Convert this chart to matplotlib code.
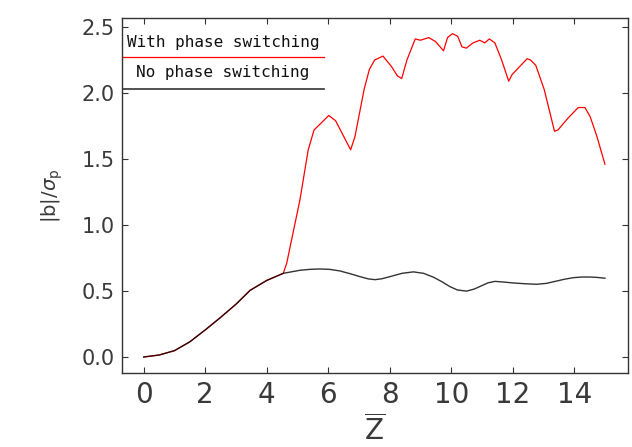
import matplotlib
matplotlib.use("Agg")
import matplotlib.pyplot as plt
from matplotlib.lines import Line2D

# no phase switching (black)
z_off = [0.0, 0.5, 1.0, 1.5, 2.0, 2.5, 3.0, 3.46, 4.0, 4.54, 5.08, 5.4, 5.73, 6.05,
         6.38, 6.7, 7.03, 7.3, 7.52, 7.75, 8.01, 8.4, 8.77, 9.1, 9.42, 9.7, 9.96,
         10.2, 10.5, 10.75, 10.94, 11.2, 11.42, 11.7, 12.02, 12.4, 12.78, 13.1,
         13.38, 13.7, 13.97, 14.25, 14.51, 14.75, 15.0]
b_off = [0.0, 0.015, 0.048, 0.115, 0.205, 0.3, 0.4, 0.505, 0.58, 0.634, 0.657, 0.664,
         0.667, 0.664, 0.652, 0.632, 0.609, 0.592, 0.586, 0.593, 0.609, 0.634, 0.645,
         0.634, 0.605, 0.57, 0.533, 0.508, 0.499, 0.515, 0.535, 0.562, 0.573, 0.568,
         0.561, 0.555, 0.551, 0.558, 0.573, 0.59, 0.601, 0.606, 0.606, 0.603, 0.597]

# with phase switching (red)
z_on = [0.0, 0.5, 1.0, 1.5, 2.0, 2.5, 3.0, 3.46, 4.0, 4.54, 4.65, 5.08, 5.35, 5.54,
        6.02, 6.24, 6.73, 6.87, 7.17, 7.34, 7.51, 7.78, 8.06, 8.25, 8.39, 8.56, 8.83,
        9.0, 9.27, 9.49, 9.75, 9.88, 10.04, 10.21, 10.35, 10.49, 10.71, 10.93, 11.09,
        11.24, 11.42, 11.64, 11.87, 11.98, 12.47, 12.58, 12.75, 13.02, 13.19, 13.36,
        13.47, 13.8, 14.13, 14.35, 14.52, 14.74, 15.0]
b_on = [0.0, 0.015, 0.048, 0.115, 0.205, 0.3, 0.4, 0.505, 0.58, 0.634, 0.71, 1.19,
        1.57, 1.72, 1.83, 1.79, 1.57, 1.67, 2.03, 2.18, 2.25, 2.28, 2.2, 2.13, 2.11,
        2.25, 2.41, 2.4, 2.42, 2.39, 2.32, 2.42, 2.45, 2.43, 2.35, 2.34, 2.38, 2.4,
        2.38, 2.41, 2.38, 2.25, 2.09, 2.14, 2.26, 2.25, 2.21, 2.03, 1.87, 1.71, 1.72,
        1.81, 1.89, 1.89, 1.82, 1.67, 1.46]

labels = ["With phase switching", "No phase switching"]
xticks = [0, 2, 4, 6, 8, 10, 12, 14]
yticks = [0.0, 0.5, 1.0, 1.5, 2.0, 2.5]

plt.rcParams["mathtext.fontset"] = "dejavusans"
fig = plt.figure(figsize=(6.32, 4.47), dpi=100)
ax = fig.add_axes([0.1926, 0.1662, 0.8011, 0.7928])

ax.plot(z_on, b_on, color="#ff0000", lw=0.9)
ax.plot(z_off, b_off, color="#000000", lw=1.0, alpha=0.8)

ax.set_xlim(-0.715, 15.75)
ax.set_ylim(-0.119, 2.566)
ax.set_xticks(xticks)
ax.set_xticklabels([str(t) for t in xticks])
ax.set_yticks(yticks)
ax.set_yticklabels(["%.1f" % t for t in yticks])

ax.tick_params(axis="both", direction="in", top=True, right=True, length=4.5,
               width=0.8, color="#333333", labelcolor="#3a3a3a")
ax.tick_params(axis="x", labelsize=20, pad=6)
ax.tick_params(axis="y", labelsize=15, pad=5)
for s in ax.spines.values():
    s.set_color("#333333")
    s.set_linewidth(1.0)

# legend drawn the IDL way: text above a line
ax.text(0.20, 0.933, labels[0], transform=ax.transAxes, ha="center", va="center",
        family="DejaVu Sans Mono", fontsize=11.5, color="#111111")
ax.add_line(Line2D([0, 0.40], [0.891, 0.891], transform=ax.transAxes,
                   color="#ff0000", lw=0.9))
ax.text(0.20, 0.846, labels[1], transform=ax.transAxes, ha="center", va="center",
        family="DejaVu Sans Mono", fontsize=11.5, color="#111111")
ax.add_line(Line2D([0, 0.40], [0.80, 0.80], transform=ax.transAxes,
                   color="#333333", lw=1.2))

ax.set_ylabel(r"|b|/$\sigma_{\rm p}$", fontsize=14, color="#3a3a3a", labelpad=12)
ax.set_xlabel(r"$\overline{\rm Z}$", fontsize=20, color="#3a3a3a", labelpad=4)

fig.savefig("out.png", dpi=100)
